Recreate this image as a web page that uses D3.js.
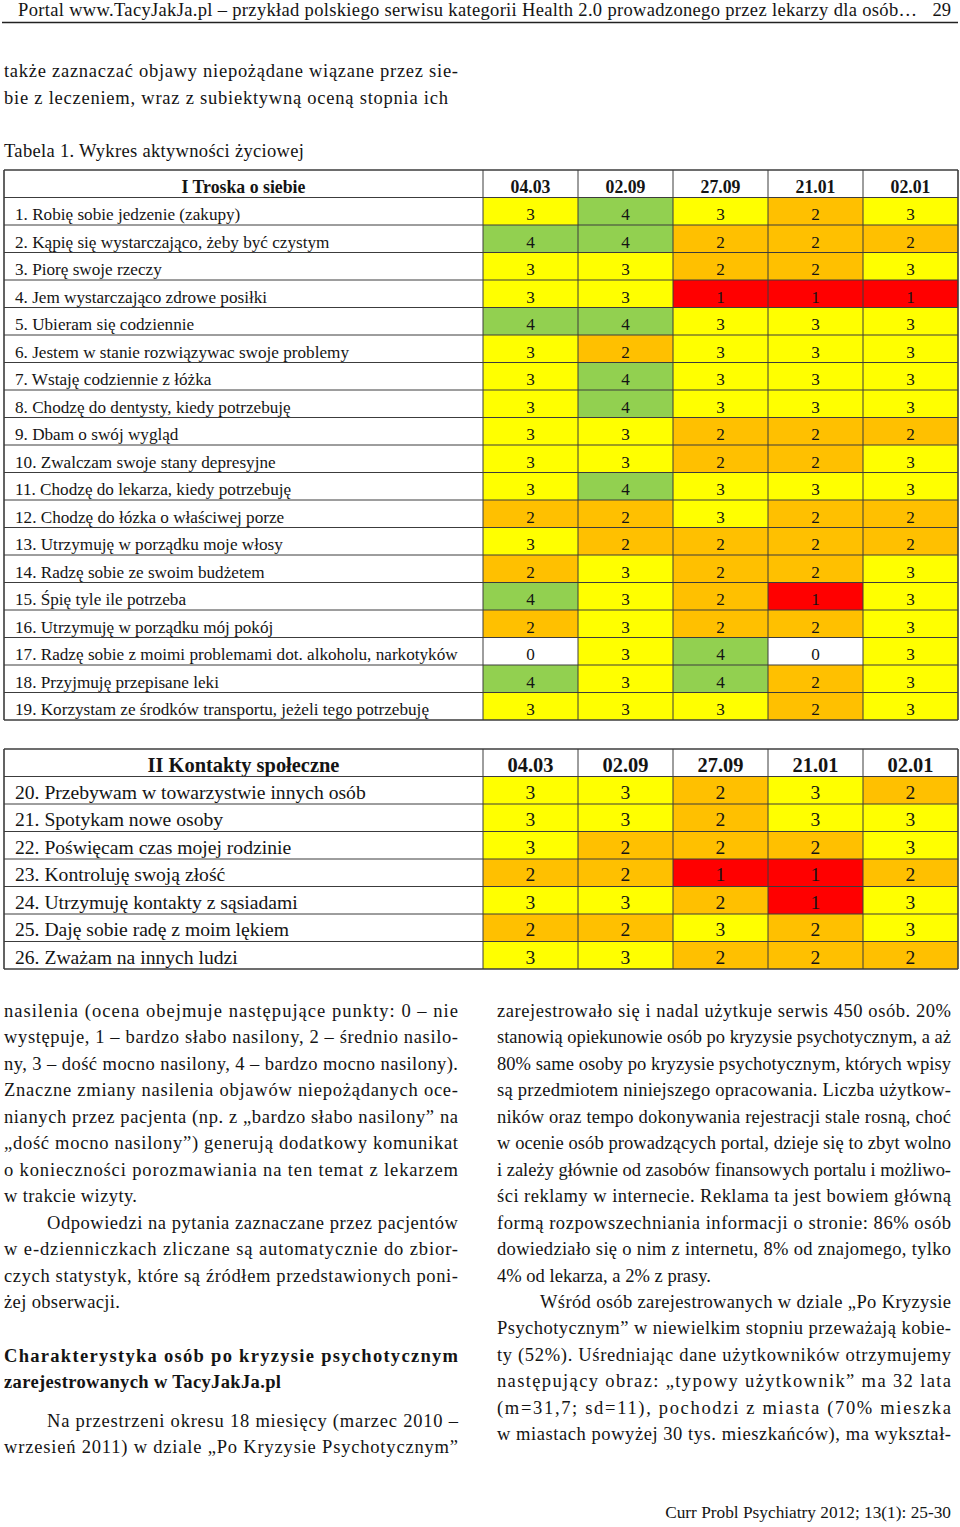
<!DOCTYPE html>
<html><head><meta charset="utf-8">
<script src="https://cdn.jsdelivr.net/npm/d3@7"></script>
<style>body{margin:0;background:#fff}</style>
</head><body><svg id="c" width="960" height="1527"></svg>
<script>
// ---------- DATA ----------
const dates = ["04.03", "02.09", "27.09", "21.01", "02.01"];

const section1Title = "I Troska o siebie";
const items1 = [
  "1. Robię sobie jedzenie (zakupy)",
  "2. Kąpię się wystarczająco, żeby być czystym",
  "3. Piorę swoje rzeczy",
  "4. Jem wystarczająco zdrowe posiłki",
  "5. Ubieram się codziennie",
  "6. Jestem w stanie rozwiązywac swoje problemy",
  "7. Wstaję codziennie z łóżka",
  "8. Chodzę do dentysty, kiedy potrzebuję",
  "9. Dbam o swój wygląd",
  "10. Zwalczam swoje stany depresyjne",
  "11. Chodzę do lekarza, kiedy potrzebuję",
  "12. Chodzę do łózka o właściwej porze",
  "13. Utrzymuję w porządku moje włosy",
  "14. Radzę sobie ze swoim budżetem",
  "15. Śpię tyle ile potrzeba",
  "16. Utrzymuję w porządku mój pokój",
  "17. Radzę sobie z moimi problemami dot. alkoholu, narkotyków",
  "18. Przyjmuję przepisane leki",
  "19. Korzystam ze środków transportu, jeżeli tego potrzebuję"
];
const scores1 = [
  [3,4,3,2,3],[4,4,2,2,2],[3,3,2,2,3],[3,3,1,1,1],[4,4,3,3,3],
  [3,2,3,3,3],[3,4,3,3,3],[3,4,3,3,3],[3,3,2,2,2],[3,3,2,2,3],
  [3,4,3,3,3],[2,2,3,2,2],[3,2,2,2,2],[2,3,2,2,3],[4,3,2,1,3],
  [2,3,2,2,3],[0,3,4,0,3],[4,3,4,2,3],[3,3,3,2,3]
];

const section2Title = "II Kontakty społeczne";
const items2 = [
  "20. Przebywam w towarzystwie innych osób",
  "21. Spotykam nowe osoby",
  "22. Poświęcam czas mojej rodzinie",
  "23. Kontroluję swoją złość",
  "24. Utrzymuję kontakty z sąsiadami",
  "25. Daję sobie radę z moim lękiem",
  "26. Zważam na innych ludzi"
];
const scores2 = [
  [3,3,2,3,2],[3,3,2,3,3],[3,2,2,2,3],[2,2,1,1,2],
  [3,3,2,1,3],[2,2,3,2,3],[3,3,2,2,2]
];

const scoreLevels = [0, 1, 2, 3, 4];
const scoreColors = ["#ffffff", "#ff0000", "#ffc000", "#ffff00", "#92d050"];

const runningHead = "Portal www.TacyJakJa.pl – przykład polskiego serwisu kategorii Health 2.0 prowadzonego przez lekarzy dla osób…";
const pageNumber = "29";
const introLines = [
  "także zaznaczać objawy niepożądane wiązane przez sie-",
  "bie z leczeniem, wraz z subiektywną oceną stopnia ich"
];
const caption = "Tabela 1. Wykres aktywności życiowej";
const leftLines = [
  ["nasilenia (ocena obejmuje następujące punkty: 0 – nie", "j"],
  ["występuje, 1 – bardzo słabo nasilony, 2 – średnio nasilo-", "j"],
  ["ny, 3 – dość mocno nasilony, 4 – bardzo mocno nasilony).", "j"],
  ["Znaczne zmiany nasilenia objawów niepożądanych oce-", "j"],
  ["nianych przez pacjenta (np. z „bardzo słabo nasilony” na", "j"],
  ["„dość mocno nasilony”) generują dodatkowy komunikat", "j"],
  ["o konieczności porozmawiania na ten temat z lekarzem", "j"],
  ["w trakcie wizyty.", "n"],
  ["Odpowiedzi na pytania zaznaczane przez pacjentów", "ji"],
  ["w e-dzienniczkach zliczane są automatycznie do zbior-", "j"],
  ["czych statystyk, które są źródłem przedstawionych poni-", "j"],
  ["żej obserwacji.", "n"]
];
const headingLines = [
  ["Charakterystyka osób po kryzysie psychotycznym", "j"],
  ["zarejestrowanych w TacyJakJa.pl", "n"]
];
const leftLines2 = [
  ["Na przestrzeni okresu 18 miesięcy (marzec 2010 –", "ji"],
  ["wrzesień 2011) w dziale „Po Kryzysie Psychotycznym”", "j"]
];
const rightLines = [
  ["zarejestrowało się i nadal użytkuje serwis 450 osób. 20%", "j"],
  ["stanowią opiekunowie osób po kryzysie psychotycznym, a aż", "j"],
  ["80% same osoby po kryzysie psychotycznym, których wpisy", "j"],
  ["są przedmiotem niniejszego opracowania. Liczba użytkow-", "j"],
  ["ników oraz tempo dokonywania rejestracji stale rosną, choć", "j"],
  ["w ocenie osób prowadzących portal, dzieje się to zbyt wolno", "j"],
  ["i zależy głównie od zasobów finansowych portalu i możliwo-", "j"],
  ["ści reklamy w internecie. Reklama ta jest bowiem główną", "j"],
  ["formą rozpowszechniania informacji o stronie: 86% osób", "j"],
  ["dowiedziało się o nim z internetu, 8% od znajomego, tylko", "j"],
  ["4% od lekarza, a 2% z prasy.", "n"],
  ["Wśród osób zarejestrowanych w dziale „Po Kryzysie", "ji"],
  ["Psychotycznym” w niewielkim stopniu przeważają kobie-", "j"],
  ["ty (52%). Uśredniając dane użytkowników otrzymujemy", "j"],
  ["następujący obraz: „typowy użytkownik” ma 32 lata", "j"],
  ["(m=31,7; sd=11), pochodzi z miasta (70% mieszka", "j"],
  ["w miastach powyżej 30 tys. mieszkańców), ma wykształ-", "j"]
];
const footer = "Curr Probl Psychiatry 2012; 13(1): 25-30";

// ---------- RENDER ----------
const svg = d3.select("#c");
const FONT = "'Liberation Serif', 'Times New Roman', serif";
const INK = "#141414";
const probe = svg.append("text").attr("font-family", FONT).attr("visibility", "hidden");
function measure(t, size, weight) {
  probe.attr("font-size", size).attr("font-weight", weight || "normal").text(t);
  return probe.node().getComputedTextLength();
}
function fitSize(t, w, weight) { return 100 * w / measure(t, 100, weight); }

function line(x, y, t, o) {
  const el = svg.append("text")
    .attr("x", x).attr("y", y)
    .attr("font-family", FONT)
    .attr("font-size", o.size)
    .attr("font-weight", o.weight || "normal")
    .attr("text-anchor", o.anchor || "start")
    .attr("fill", INK)
    .text(t);
  if (o.width) {
    const nat = el.node().getComputedTextLength();
    el.attr("textLength", o.width)
      .attr("lengthAdjust", nat > o.width ? "spacingAndGlyphs" : "spacing");
  }
  return el;
}

const bodySize = Math.min(19, fitSize("4% od lekarza, a 2% z prasy.", 214));

// running head
line(18, 16, runningHead, { size: bodySize, width: 899 });
line(951, 16, pageNumber, { size: bodySize, anchor: "end" });
svg.append("line").attr("x1", 2).attr("x2", 958).attr("y1", 22.5).attr("y2", 22.5)
  .attr("stroke", "#222").attr("stroke-width", 1.3);

// intro lines + caption
line(4, 77, introLines[0], { size: bodySize, width: 454 });
line(4, 104, introLines[1], { size: bodySize, width: 444 });
line(4, 157, caption, { size: bodySize, width: 300 });

// ---------- TABLES ----------
const color = d3.scaleOrdinal().domain(scoreLevels).range(scoreColors);
const tableLeft = 4, tableRight = 958, labelEnd = 483;

function drawTable(top, rowH, title, items, scores, labelSize, headSize, dy) {
  const g = svg.append("g");
  const nRows = items.length + 1;
  const y = d3.scaleBand().domain(d3.range(nRows)).range([top, top + nRows * rowH]);
  const x = d3.scaleBand().domain(dates).range([labelEnd, tableRight]);
  const bottom = top + nRows * rowH;
  const base = (i, s) => y(i) + y.bandwidth() / 2 + s * 0.34 + dy;

  const cells = [];
  items.forEach((it, i) => scores[i].forEach((v, j) => cells.push({ r: i + 1, date: dates[j], v })));

  g.selectAll("rect.cell").data(cells).join("rect")
    .attr("class", "cell")
    .attr("x", d => x(d.date)).attr("y", d => y(d.r))
    .attr("width", x.bandwidth()).attr("height", y.bandwidth())
    .attr("fill", d => color(d.v));

  g.selectAll("text.val").data(cells).join("text")
    .attr("class", "val")
    .attr("x", d => x(d.date) + x.bandwidth() / 2)
    .attr("y", d => base(d.r, labelSize))
    .attr("text-anchor", "middle")
    .attr("font-family", FONT).attr("font-size", labelSize)
    .attr("fill", INK)
    .text(d => d.v);

  g.selectAll("text.lab").data(items).join("text")
    .attr("class", "lab")
    .attr("x", 15)
    .attr("y", (d, i) => base(i + 1, labelSize))
    .attr("font-family", FONT).attr("font-size", labelSize)
    .attr("fill", INK)
    .text(d => d);

  g.append("text")
    .attr("x", (tableLeft + labelEnd) / 2)
    .attr("y", base(0, headSize))
    .attr("text-anchor", "middle")
    .attr("font-family", FONT).attr("font-size", headSize).attr("font-weight", "bold")
    .attr("fill", INK).text(title);
  g.selectAll("text.date").data(dates).join("text")
    .attr("class", "date")
    .attr("x", d => x(d) + x.bandwidth() / 2)
    .attr("y", base(0, headSize))
    .attr("text-anchor", "middle")
    .attr("font-family", FONT).attr("font-size", headSize).attr("font-weight", "bold")
    .attr("fill", INK).text(d => d);

  const hLines = d3.range(nRows + 1).map(i => top + i * rowH);
  g.selectAll("line.h").data(hLines).join("line")
    .attr("x1", tableLeft).attr("x2", tableRight)
    .attr("y1", d => d).attr("y2", d => d)
    .attr("stroke", "#3c3c3c").attr("stroke-width", (d, i) => (i === 0 || i === nRows) ? 1.6 : 1);
  const vLines = [tableLeft, labelEnd, ...dates.slice(1).map(d => x(d)), tableRight];
  g.selectAll("line.v").data(vLines).join("line")
    .attr("x1", d => d).attr("x2", d => d)
    .attr("y1", top).attr("y2", bottom)
    .attr("stroke", "#3c3c3c").attr("stroke-width", (d, i) => (i === 0 || i === vLines.length - 1) ? 1.6 : 1);
}

const label1Size = fitSize(items1[16], 443);
const head1Size = fitSize("04.03", 40, "bold");
drawTable(170, 27.5, section1Title, items1, scores1, label1Size, head1Size, 3);

const label2Size = fitSize(items2[0], 351);
const head2Size = fitSize("04.03", 46, "bold");
drawTable(749, 27.5, section2Title, items2, scores2, label2Size, head2Size, 2);

// ---------- BODY TEXT ----------
const colW = 454, lead = 26.45, indent = 43;
function drawColumn(x0, y0, lines, weight, lastWidths) {
  lines.forEach((l, i) => {
    const [t, mode] = l;
    const xi = mode === "ji" ? x0 + indent : x0;
    const w = mode === "n" ? (lastWidths && lastWidths[t]) : colW - (mode === "ji" ? indent : 0);
    line(xi, y0 + i * lead, t, { size: bodySize, weight: weight, width: w });
  });
}
drawColumn(4, 1017, leftLines, "normal", { "w trakcie wizyty.": 133, "żej obserwacji.": 116 });
drawColumn(4, 1362, headingLines, "bold", { "zarejestrowanych w TacyJakJa.pl": 277 });
drawColumn(4, 1427, leftLines2, "normal");
drawColumn(497, 1017, rightLines, "normal", { "4% od lekarza, a 2% z prasy.": 214 });

// footer: size chosen so the natural width fits, no length adjustment
const footerSize = Math.min(bodySize, fitSize(footer, 286));
line(951, 1518, footer, { size: footerSize, anchor: "end" });
</script>
</body></html>
